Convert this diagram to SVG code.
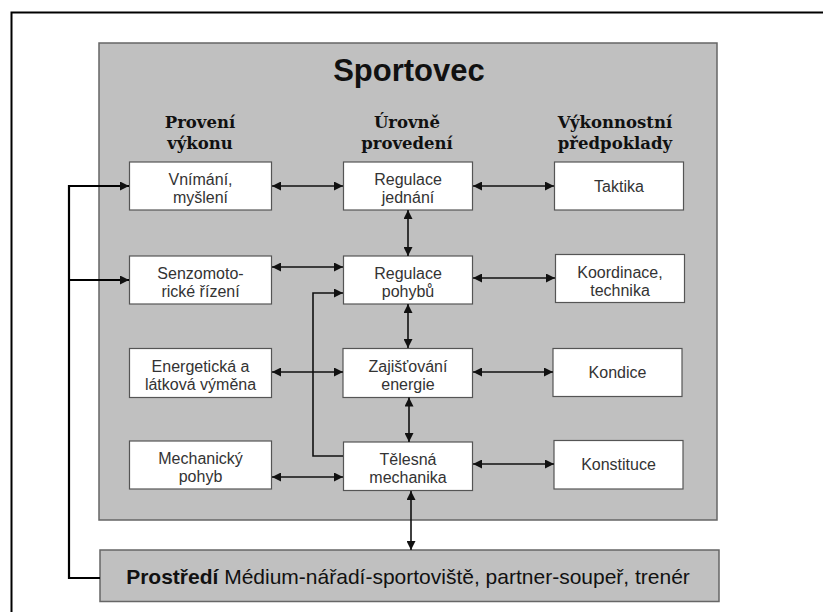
<svg xmlns="http://www.w3.org/2000/svg" width="823" height="612" viewBox="0 0 823 612">
<style>
.bg{fill:#ffffff}
.frame{fill:none;stroke:#000;stroke-width:2}
.panel{fill:#c0c0c0;stroke:#666;stroke-width:1.5}
.box{fill:#ffffff;stroke:#555;stroke-width:1.2}
.t{font-family:"Liberation Sans",Arial,sans-serif;font-size:16px;fill:#333;text-anchor:middle}
.h{font-family:"DejaVu Serif",serif;font-weight:bold;font-size:16.5px;fill:#111;text-anchor:middle}
.title{font-family:"Liberation Sans",Arial,sans-serif;font-weight:bold;font-size:31px;fill:#111;text-anchor:middle}
.env{font-family:"Liberation Sans",Arial,sans-serif;font-size:21px;fill:#111;text-anchor:middle}
.c{fill:none;stroke:#111;stroke-width:1.6}
.fb{fill:none;stroke:#000;stroke-width:2.2}
</style>
<defs>
<marker id="ah" viewBox="0 0 10 10" refX="10" refY="5" markerUnits="userSpaceOnUse" markerWidth="10" markerHeight="9" orient="auto-start-reverse">
<path d="M0,0 L10,5 L0,10 z" fill="#111"/>
</marker>
</defs>
<rect class="bg" x="0" y="0" width="823" height="612"/>
<path class="frame" d="M11.5,620 V12.5 H830"/>
<g id="sportovec">
<rect class="panel" x="99" y="43" width="618" height="477"/>
<text class="title" x="409" y="81">Sportovec</text>
</g>
<g id="hdr-provedeni-vykonu">
<text class="h" x="200" y="128">Provení</text>
<text class="h" x="200" y="149">výkonu</text>
</g>
<g id="hdr-urovne">
<text class="h" x="407" y="128">Úrovně</text>
<text class="h" x="407" y="149">provedení</text>
</g>
<g id="hdr-predpoklady">
<text class="h" x="615" y="128">Výkonnostní</text>
<text class="h" x="615" y="149">předpoklady</text>
</g>
<g id="vnimani">
<rect class="box" x="129.5" y="162" width="142" height="48"/>
<text class="t" x="200.5" y="185">Vnímání,</text>
<text class="t" x="200.5" y="203">myšlení</text>
</g>
<g id="regulace-jednani">
<rect class="box" x="343.5" y="162" width="129" height="48"/>
<text class="t" x="408" y="185">Regulace</text>
<text class="t" x="408" y="203">jednání</text>
</g>
<g id="taktika">
<rect class="box" x="554.5" y="162" width="129" height="48"/>
<text class="t" x="619" y="191.5">Taktika</text>
</g>
<g id="senzomotoricke">
<rect class="box" x="129.5" y="256" width="142" height="48"/>
<text class="t" x="200.5" y="279">Senzomoto-</text>
<text class="t" x="200.5" y="297">rické řízení</text>
</g>
<g id="regulace-pohybu">
<rect class="box" x="343.5" y="256" width="129" height="48"/>
<text class="t" x="408" y="279">Regulace</text>
<text class="t" x="408" y="297">pohybů</text>
</g>
<g id="koordinace">
<rect class="box" x="555.5" y="254.5" width="129" height="48"/>
<text class="t" x="620" y="277.5">Koordinace,</text>
<text class="t" x="620" y="295.5">technika</text>
</g>
<g id="energeticka">
<rect class="box" x="129.5" y="348.5" width="142" height="49"/>
<text class="t" x="200.5" y="372">Energetická a</text>
<text class="t" x="200.5" y="390">látková výměna</text>
</g>
<g id="zajistovani">
<rect class="box" x="343" y="348.5" width="129.5" height="49"/>
<text class="t" x="408" y="372">Zajišťování</text>
<text class="t" x="408" y="390">energie</text>
</g>
<g id="kondice">
<rect class="box" x="553" y="348.5" width="129" height="48"/>
<text class="t" x="617.5" y="378">Kondice</text>
</g>
<g id="mechanicky">
<rect class="box" x="129.5" y="441" width="142" height="48"/>
<text class="t" x="200.5" y="464">Mechanický</text>
<text class="t" x="200.5" y="482">pohyb</text>
</g>
<g id="telesna">
<rect class="box" x="343.5" y="442" width="129" height="48.5"/>
<text class="t" x="408" y="465">Tělesná</text>
<text class="t" x="408" y="483">mechanika</text>
</g>
<g id="konstituce">
<rect class="box" x="554" y="440.5" width="129" height="48.5"/>
<text class="t" x="618.5" y="470">Konstituce</text>
</g>
<g id="prostredi">
<rect class="panel" x="100" y="550" width="619" height="51.5"/>
<text class="env" x="408" y="583.5"><tspan font-weight="bold">Prostředí</tspan> Médium-nářadí-sportoviště, partner-soupeř, trenér</text>
</g>
<g id="connectors">
<path class="c" d="M272,186 H343" marker-start="url(#ah)" marker-end="url(#ah)"/>
<path class="c" d="M473,186 H554" marker-start="url(#ah)" marker-end="url(#ah)"/>
<path class="c" d="M272,267 H343" marker-start="url(#ah)" marker-end="url(#ah)"/>
<path class="c" d="M473,278 H555" marker-start="url(#ah)" marker-end="url(#ah)"/>
<path class="c" d="M272,372 H343" marker-start="url(#ah)" marker-end="url(#ah)"/>
<path class="c" d="M473,372 H553" marker-start="url(#ah)" marker-end="url(#ah)"/>
<path class="c" d="M272,477 H343" marker-start="url(#ah)" marker-end="url(#ah)"/>
<path class="c" d="M473,464 H554" marker-start="url(#ah)" marker-end="url(#ah)"/>
<path class="c" d="M408,210 V256" marker-start="url(#ah)" marker-end="url(#ah)"/>
<path class="c" d="M408,304 V348" marker-start="url(#ah)" marker-end="url(#ah)"/>
<path class="c" d="M409,397.5 V442" marker-start="url(#ah)" marker-end="url(#ah)"/>
<path class="c" d="M411,491 V550" marker-start="url(#ah)" marker-end="url(#ah)"/>
<path class="c" d="M343,456 H313 V293 H343" marker-end="url(#ah)"/>
<path class="fb" d="M100,578 H69 V186 H129" marker-end="url(#ah)"/>
<path class="fb" d="M69,280 H129" marker-end="url(#ah)"/>
</g>
</svg>
